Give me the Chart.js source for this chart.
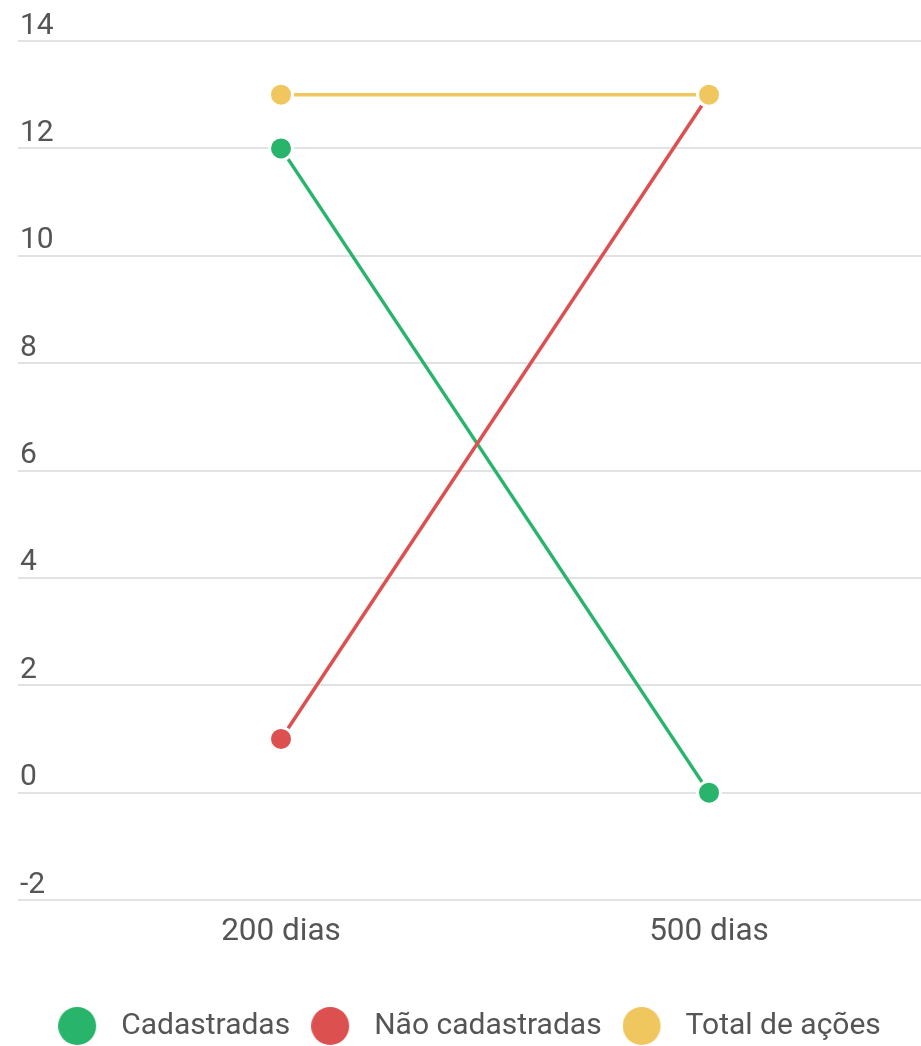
<!DOCTYPE html>
<html>
<head>
<meta charset="utf-8">
<script src="https://cdn.jsdelivr.net/npm/chart.js@4"></script>
<style>
  html, body { margin: 0; padding: 0; background: #ffffff; }
  #wrap { width: 921px; height: 1046px; }
</style>
</head>
<body>
<div id="wrap"><canvas id="c" width="921" height="1046"></canvas></div>
<script>
// ---- data ----
const categories = ['200 dias', '500 dias'];
const seriesNames = ['Cadastradas', 'Não cadastradas', 'Total de ações'];
const cadastradas = [12, 0];
const naoCadastradas = [1, 13];
const totalAcoes = [13, 13];
const yTicks = [-2, 0, 2, 4, 6, 8, 10, 12, 14];

// ---- styles ----
const colors = ['#28b46a', '#dc5050', '#f0c75e'];
const textColor = '#555555';
const FONT = 'Roboto';

function toPoints(values) {
  return values.map((v, i) => ({ x: i, y: v }));
}

function legendDot(color) {
  const c = document.createElement('canvas');
  c.width = 48; c.height = 40;
  const g = c.getContext('2d');
  g.fillStyle = color;
  g.beginPath();
  g.arc(19, 20, 19, 0, Math.PI * 2);
  g.fill();
  return c;
}
const legendDots = colors.map(legendDot);

const seriesValues = [cadastradas, naoCadastradas, totalAcoes];
const datasets = seriesValues.map((vals, i) => ({
  label: seriesNames[i],
  data: toPoints(vals),
  borderColor: colors[i],
  backgroundColor: colors[i],
  borderWidth: 3.5,
  tension: 0,
  pointRadius: 11.5,
  pointHoverRadius: 11.5,
  pointBorderWidth: 3,
  pointBorderColor: '#ffffff',
  pointBackgroundColor: colors[i],
  order: seriesValues.length - i
}));

Chart.defaults.font.family = FONT;

new Chart(document.getElementById('c'), {
  type: 'line',
  data: { datasets },
  options: {
    responsive: false,
    animation: false,
    devicePixelRatio: 1,
    layout: { autoPadding: false, padding: { top: 41, left: 14, right: 0, bottom: -5 } },
    scales: {
      x: {
        type: 'linear',
        min: -0.6145,
        max: 1.4953,
        grid: { display: false },
        border: { display: false },
        afterBuildTicks: (s) => { s.ticks = categories.map((_, i) => ({ value: i })); },
        afterFit: (s) => { s.height = 90; s.paddingLeft = 0; s.paddingRight = 0; },
        ticks: {
          padding: 5,
          maxRotation: 0,
          autoSkip: false,
          color: textColor,
          font: { size: 31.5 },
          callback: (v) => categories[v]
        }
      },
      y: {
        type: 'linear',
        min: yTicks[0],
        max: yTicks[yTicks.length - 1],
        afterBuildTicks: (s) => { s.ticks = yTicks.map(v => ({ value: v })); },
        grid: { color: '#e2e2e2', lineWidth: 2, drawTicks: false },
        border: { display: false },
        ticks: {
          mirror: true,
          padding: 2,
          labelOffset: -15,
          color: textColor,
          font: { size: 30 }
        }
      }
    },
    plugins: {
      tooltip: { enabled: false },
      legend: {
        position: 'bottom',
        fullSize: false,
        labels: {
          usePointStyle: true,
          pointStyleWidth: 48,
          boxHeight: 30,
          padding: 21,
          color: textColor,
          font: { size: 30 },
          generateLabels: (chart) => {
            const items = Chart.defaults.plugins.legend.labels.generateLabels(chart);
            items.sort((a, b) => a.datasetIndex - b.datasetIndex);
            items.forEach(it => { it.pointStyle = legendDots[it.datasetIndex]; });
            return items;
          }
        }
      }
    }
  }
});
</script>
</body>
</html>
